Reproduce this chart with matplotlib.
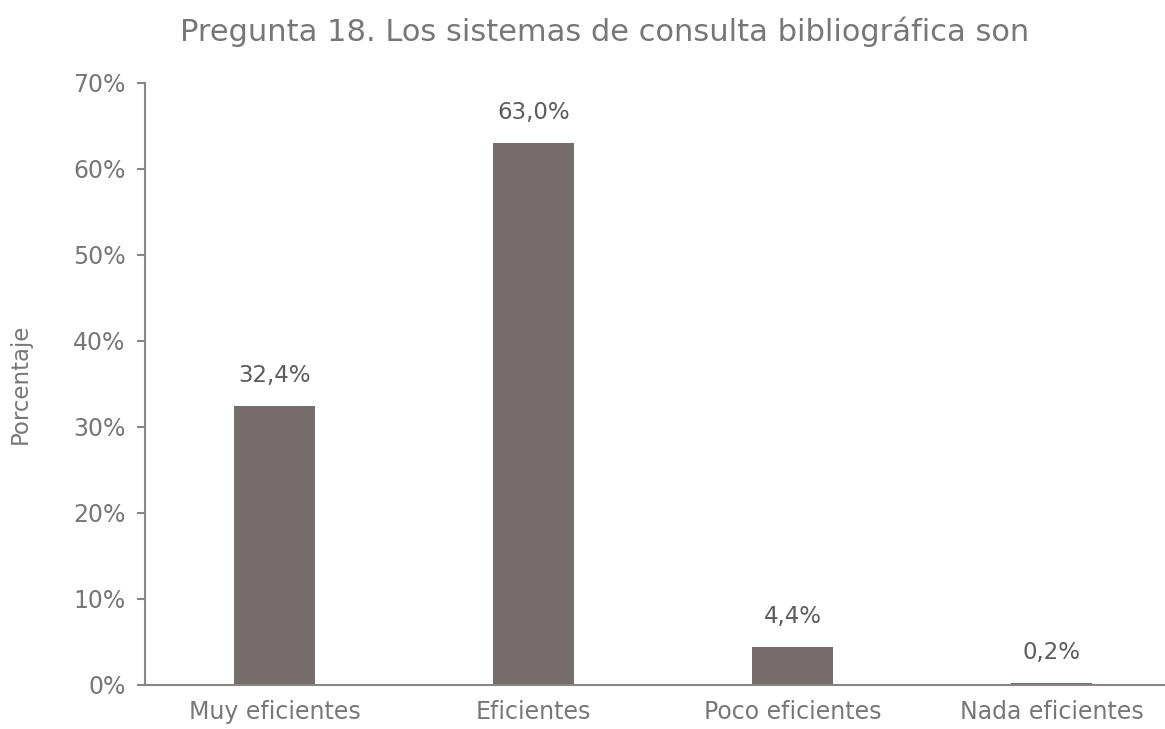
import matplotlib.pyplot as plt

categorias = ['Muy eficientes', 'Eficientes', 'Poco eficientes', 'Nada eficientes']
valores = [32.4, 63.0, 4.4, 0.2]
etiquetas = ['32,4%', '63,0%', '4,4%', '0,2%']
ticks_y = [0, 10, 20, 30, 40, 50, 60, 70]

plt.rcParams['font.family'] = ['DejaVu Sans']
gris = '#7a7676'
color_barra = '#756d6c'

fig = plt.figure(figsize=(11.65, 7.29), dpi=100)
ax = fig.add_axes([145/1165, 1-685/729, 1036/1165, 602/729])

x = range(len(categorias))
ax.bar(x, valores, width=0.31, color=color_barra)
for i in x:
    ax.text(i, valores[i] + 2.2, etiquetas[i], ha='center', va='bottom', fontsize=16.5, color='#5e5a5a')

ax.set_xlim(-0.5, 3.5)
ax.set_ylim(0, 70)
ax.set_yticks(ticks_y)
ax.set_yticklabels([str(t) + '%' for t in ticks_y])
ax.set_xticks(list(x))
ax.set_xticklabels(categorias)
ax.tick_params(axis='y', colors='#8a8484', labelcolor=gris, labelsize=17, length=6, width=1.5, pad=8)
ax.tick_params(axis='x', length=0, labelcolor=gris, labelsize=17, pad=11)
ax.spines['top'].set_visible(False)
ax.spines['right'].set_visible(False)
ax.spines['left'].set_color('#8a8484')
ax.spines['bottom'].set_color('#8a8484')
ax.spines['left'].set_linewidth(1.5)
ax.spines['bottom'].set_linewidth(1.5)
ax.set_ylabel('Porcentaje', fontsize=16.5, color=gris, labelpad=30)

fig.text(605/1165, 1-32/729, 'Pregunta 18. Los sistemas de consulta bibliográfica son',
         ha='center', va='center', fontsize=22, color=gris)

fig.savefig('out.png', dpi=100)
